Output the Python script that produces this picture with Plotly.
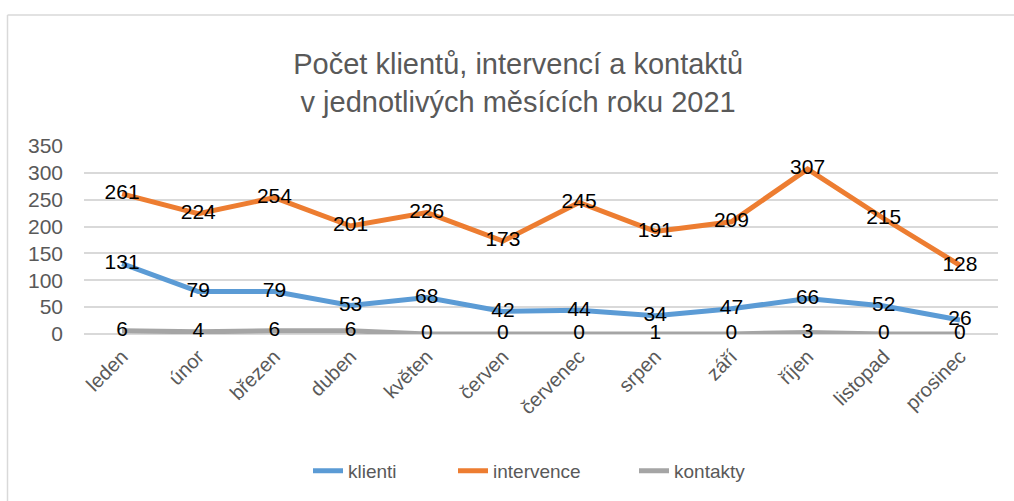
import plotly.graph_objects as go

months = ["leden", "únor", "březen", "duben", "květen", "červen", "červenec",
          "srpen", "září", "říjen", "listopad", "prosinec"]
klienti = [131, 79, 79, 53, 68, 42, 44, 34, 47, 66, 52, 26]
intervence = [261, 224, 254, 201, 226, 173, 245, 191, 209, 307, 215, 128]
kontakty = [6, 4, 6, 6, 0, 0, 0, 1, 0, 3, 0, 0]

series = [("klienti", klienti, "#5B9BD5", "legend"),
          ("intervence", intervence, "#ED7D31", "legend2"),
          ("kontakty", kontakty, "#A5A5A5", "legend3")]

FONT = "Liberation Sans"
GREY = "#595959"
W, H = 1014, 501
L, R, T, B = 84, 16, 145.7, 167
pw, ph = W - L - R, H - T - B


def px(x):
    return (x - L) / pw


def py(y):
    return (H - B - y) / ph


fig = go.Figure()
for name, vals, col, lg in series:
    fig.add_trace(go.Scatter(
        x=months, y=vals, name=name, mode="lines", legend=lg,
        line=dict(color=col, width=5),
    ))
# data labels on top of all lines
for name, vals, col, lg in series:
    fig.add_trace(go.Scatter(
        x=months, y=vals, name=name, mode="text", showlegend=False,
        text=[str(v) for v in vals], textposition="middle center",
        textfont=dict(family=FONT, size=21, color="#000000"),
        cliponaxis=False, hoverinfo="skip",
    ))

legend_common = dict(orientation="h", yanchor="middle", xanchor="left",
                     font=dict(family=FONT, size=19, color=GREY),
                     bgcolor="rgba(0,0,0,0)", borderwidth=0)

fig.update_layout(
    width=W, height=H,
    margin=dict(l=L, r=R, t=T, b=B, autoexpand=False),
    paper_bgcolor="white", plot_bgcolor="white",
    font=dict(family=FONT, color=GREY),
    title=dict(text="Počet klientů, intervencí a kontaktů<br>v jednotlivých měsících roku 2021",
               font=dict(family=FONT, size=29, color=GREY),
               x=0.511, xanchor="center", y=1 - 74 / H, yanchor="middle"),
    xaxis=dict(tickangle=-45, tickfont=dict(size=20, color=GREY), automargin=False,
               range=[-0.5, len(months) - 0.5], ticklabelstandoff=6,
               showgrid=False, showline=False, ticks="", zeroline=False),
    yaxis=dict(range=[0, 350], dtick=50, tickfont=dict(size=21, color=GREY),
               automargin=False,
               showgrid=True, gridcolor="#D9D9D9", gridwidth=1.5,
               zeroline=True, zerolinecolor="#D9D9D9", zerolinewidth=1.5,
               showline=False, ticks="", ticklabelstandoff=20),
    legend=dict(x=px(350 - 42), y=py(471), **legend_common),
    legend2=dict(x=px(495 - 42), y=py(471), **legend_common),
    legend3=dict(x=px(676 - 42), y=py(471), **legend_common),
    showlegend=True,
    shapes=[
        dict(type="line", xref="paper", yref="paper", x0=px(7.5), x1=px(7.5),
             y0=py(14.5), y1=py(505), line=dict(color="#D9D9D9", width=1.5)),
        dict(type="line", xref="paper", yref="paper", x0=px(7.5), x1=px(1020),
             y0=py(14.5), y1=py(14.5), line=dict(color="#D9D9D9", width=1.5)),
    ],
)

fig.write_html("out.html", config={"displayModeBar": False},
               post_script="document.body.style.margin='0';")
